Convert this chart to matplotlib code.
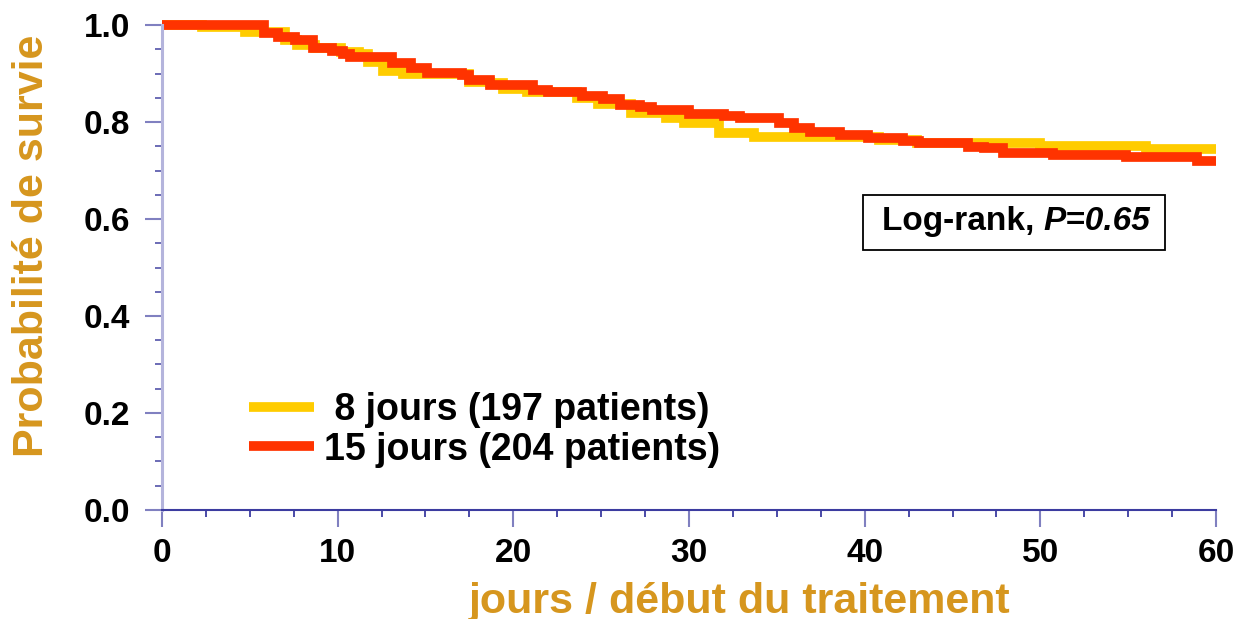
import matplotlib.pyplot as plt
from matplotlib.patches import Rectangle
from matplotlib.ticker import MultipleLocator

plt.rcParams["font.family"] = ["Liberation Sans", "DejaVu Sans"]

# Kaplan-Meier steps: (day, survival after the step)
days_8 = [0, 2.3, 4.7, 7.0, 7.7, 8.7, 10.2, 11.2, 11.7, 12.6, 13.7, 17.5, 18.7,
          19.4, 20.8, 23.6, 24.8, 26.7, 28.7, 29.7, 31.7, 33.7, 40.8, 43.0, 50.0,
          56.0, 60.0]
surv_8 = [1.0, 0.995, 0.986, 0.970, 0.959, 0.952, 0.944, 0.940, 0.924, 0.906,
          0.898, 0.883, 0.880, 0.869, 0.861, 0.850, 0.837, 0.818, 0.808, 0.797,
          0.778, 0.770, 0.763, 0.756, 0.751, 0.744, 0.744]

days_15 = [0, 5.8, 6.6, 7.6, 8.6, 9.7, 10.3, 10.7, 13.1, 14.2, 15.1, 17.1, 17.5,
           18.7, 21.1, 22.0, 23.9, 25.1, 26.1, 27.2, 27.9, 30.0, 32.0, 32.9, 35.1,
           36.0, 36.9, 38.6, 40.2, 42.2, 43.1, 45.9, 46.8, 47.9, 50.7, 54.9, 58.9,
           60.0]
surv_15 = [1.0, 0.983, 0.976, 0.969, 0.952, 0.947, 0.940, 0.935, 0.921, 0.911,
           0.902, 0.896, 0.887, 0.876, 0.866, 0.861, 0.854, 0.847, 0.835, 0.830,
           0.825, 0.816, 0.813, 0.808, 0.797, 0.787, 0.779, 0.773, 0.766, 0.761,
           0.756, 0.749, 0.746, 0.737, 0.732, 0.727, 0.720, 0.720]

label_8 = " 8 jours (197 patients)"
label_15 = "15 jours (204 patients)"
gold = "#d6961e"

fig = plt.figure(figsize=(12.43, 6.19), dpi=100)
ax = fig.add_axes([0.1303, 0.1761, 0.848, 0.7835])

ax.plot(days_8, surv_8, drawstyle="steps-post", color="#ffcc00", linewidth=7,
        solid_capstyle="butt", solid_joinstyle="miter", clip_on=False, label=label_8)
ax.plot(days_15, surv_15, drawstyle="steps-post", color="#ff3300", linewidth=7,
        solid_capstyle="butt", solid_joinstyle="miter", clip_on=False, label=label_15)

ax.set_xlim(0, 60)
ax.set_ylim(0, 1.0)
ax.xaxis.set_major_locator(MultipleLocator(10))
ax.xaxis.set_minor_locator(MultipleLocator(2.5))
ax.yaxis.set_major_locator(MultipleLocator(0.2))
ax.yaxis.set_minor_locator(MultipleLocator(0.05))
ax.yaxis.set_major_formatter(plt.FormatStrFormatter("%.1f"))

for side in ("top", "right"):
    ax.spines[side].set_visible(False)
ax.spines["left"].set_color("#b4b4dc")
ax.spines["left"].set_linewidth(2.2)
ax.spines["bottom"].set_color("#3c3ca0")
ax.spines["bottom"].set_linewidth(1.5)

ax.tick_params(axis="x", which="major", length=12, width=1.5, color="#8080c0",
               labelsize=24, pad=8)
ax.tick_params(axis="x", which="minor", length=5, width=1.3, color="#3c3ca0")
ax.tick_params(axis="y", which="major", length=12, width=1.5, color="#8080c0",
               labelsize=24, pad=11)
ax.tick_params(axis="y", which="minor", length=5, width=1.3, color="#6060b0")
for lab in ax.get_xticklabels() + ax.get_yticklabels():
    lab.set_fontweight("bold")

ax.set_xlabel("jours / début du traitement", color=gold, fontsize=31,
              fontweight="bold")
ax.set_ylabel("Probabilité de survie", color=gold, fontsize=31,
              fontweight="bold")
# the original labels sit off-centre
ax.xaxis.set_label_coords(0.548, -0.148)
ax.yaxis.set_label_coords(-0.104, 0.544)

leg = ax.legend(loc="upper left", bbox_to_anchor=(0.083, 0.243), frameon=False,
                prop={"size": 27, "weight": "bold"}, handlelength=1.73,
                handletextpad=0.27, labelspacing=0.09, borderpad=0,
                borderaxespad=0)

ax.add_patch(Rectangle((0.665, 0.536), 0.287, 0.113, transform=ax.transAxes,
                       fill=False, edgecolor="black", linewidth=1.3))
ax.text(0.836, 0.594, "Log-rank, ", transform=ax.transAxes, ha="right",
        va="center", fontsize=24, fontweight="bold")
ax.text(0.836, 0.594, "P=0.65", transform=ax.transAxes, ha="left",
        va="center", fontsize=24, fontweight="bold", style="italic")

fig.savefig("out.png", dpi=100)
